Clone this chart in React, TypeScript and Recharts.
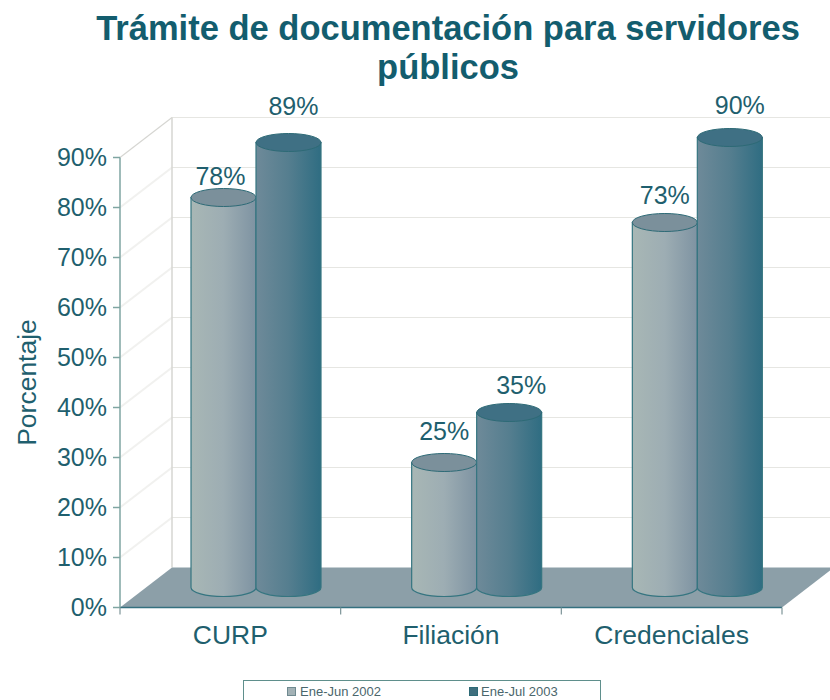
import { BarChart, Bar, XAxis, YAxis, Legend, LabelList, usePlotArea } from "recharts";

const categories = ["CURP", "Filiación", "Credenciales"];
const serie2002 = [78, 25, 73];
const serie2003 = [89, 35, 90];
const yTicks = [0, 10, 20, 30, 40, 50, 60, 70, 80, 90];
const seriesNames = ["Ene-Jun 2002", "Ene-Jul 2003"];

// label positions in the source are a bit uneven, so nudge them by hand
const nudge2002 = [{ x: -3, y: 10 }, { x: 0, y: 0 }, { x: 0, y: 4 }];
const nudge2003 = [{ x: 5, y: -5 }, { x: 12, y: 4 }, { x: 10, y: -1 }];

const chartData = categories.map((name, i) => ({
  name,
  a: serie2002[i],
  b: serie2003[i],
}));

const TEAL = "#1f5f6e";
const FONT = "'Liberation Sans', Arial, sans-serif";
const DX = 52;
const DY = -40;
const RY = 9;

// Back wall, side wall and floor of the 3D box
function Backdrop() {
  const plot = usePlotArea();
  if (!plot) return null;
  const left = plot.x;
  const right = plot.x + plot.width;
  const bottom = plot.y + plot.height;
  const yOf = (t: number) => bottom - (t / 90) * plot.height;

  return (
    <g>
      {yTicks.map((t) => (
        <g key={t}>
          {t > 0 && (
            <line x1={left + DX} x2={right + DX} y1={yOf(t) + DY} y2={yOf(t) + DY}
              stroke="#e6e6e2" strokeWidth={1.2} />
          )}
          {t > 0 && t < 90 && (
            <line x1={left} x2={left + DX} y1={yOf(t)} y2={yOf(t) + DY}
              stroke="#f1f1ef" strokeWidth={2} />
          )}
        </g>
      ))}
      <line x1={left} x2={left + DX} y1={yOf(90)} y2={yOf(90) + DY} stroke="#d6d6d2" strokeWidth={1.2} />
      <line x1={left + DX} x2={left + DX} y1={yOf(90) + DY} y2={bottom + DY} stroke="#d6d6d2" strokeWidth={1.5} />
      <polygon
        points={`${left},${bottom} ${left + DX},${bottom + DY} ${right + DX},${bottom + DY} ${right},${bottom}`}
        fill="#8c9fa8"
      />
      <line x1={left} x2={right} y1={bottom} y2={bottom} stroke="#34707f" strokeWidth={1.3} />
      {[0, 1, 2, 3].map((i) => {
        const x = left + (plot.width * i) / 3;
        return <line key={i} x1={x} x2={x} y1={bottom} y2={bottom + 7} stroke="#7d9498" strokeWidth={1.2} />;
      })}
      <text x={448} y={40} textAnchor="middle" fontFamily={FONT} fontWeight={700} fontSize={34.5} fill="#135d6e">
        Trámite de documentación para servidores
      </text>
      <text x={448} y={79} textAnchor="middle" fontFamily={FONT} fontWeight={700} fontSize={34.5} fill="#135d6e">
        públicos
      </text>
    </g>
  );
}

function Cylinder(props: any) {
  const { x, y, width, height, bodyFill, topFill } = props;
  const rx = width / 2;
  const cx = x + rx + DX / 2;
  const top = y + DY / 2;
  const bot = y + height + DY / 2;
  const d = `M${cx - rx},${top} L${cx - rx},${bot} A${rx},${RY} 0 0 0 ${cx + rx},${bot} L${cx + rx},${top} Z`;
  return (
    <g>
      <path d={d} fill={bodyFill} stroke="#357580" strokeWidth={1.2} />
      <ellipse cx={cx} cy={top} rx={rx} ry={RY} fill={topFill} stroke="#2d6a76" strokeWidth={1} />
    </g>
  );
}

function valueLabel(nudges: { x: number; y: number }[]) {
  return (props: any) => {
    const { x, y, width, value, index } = props;
    const n = nudges[index];
    return (
      <text x={x + width / 2 + DX / 2 + n.x} y={y + DY / 2 - 23 + n.y} textAnchor="middle"
        fontFamily={FONT} fontSize={25} fill={TEAL}>
        {value}%
      </text>
    );
  };
}

function LegendBox() {
  return (
    <div style={{
      position: "absolute", left: 243, top: 680, width: 358, height: 26,
      border: "1px solid #5f8f8c", boxSizing: "border-box", background: "#fff",
      fontFamily: FONT, fontSize: 13, color: "#4a666c",
    }}>
      <span style={{ position: "absolute", left: 43, top: 6, width: 7, height: 7, background: "#a3b2b6", border: "1px solid #6f8a90" }} />
      <span style={{ position: "absolute", left: 56, top: 4, lineHeight: "14px", whiteSpace: "nowrap" }}>{seriesNames[0]}</span>
      <span style={{ position: "absolute", left: 225, top: 6, width: 7, height: 7, background: "#3f6f7e", border: "1px solid #2d6a76" }} />
      <span style={{ position: "absolute", left: 237, top: 4, lineHeight: "14px", whiteSpace: "nowrap" }}>{seriesNames[1]}</span>
    </div>
  );
}

export default function App() {
  return (
    <div style={{ position: "absolute", left: 0, top: 0, width: 830, height: 700, overflow: "hidden", background: "#fff" }}>
      <BarChart
        width={830}
        height={700}
        data={chartData}
        barSize={65}
        barGap={0}
        margin={{ top: 157.5, right: 48, bottom: 52.5, left: 0 }}
      >
        <defs>
          <linearGradient id="cyl2002" x1="0" y1="0" x2="1" y2="0">
            <stop offset="0%" stopColor="#a8b7b5" />
            <stop offset="50%" stopColor="#9dadb3" />
            <stop offset="100%" stopColor="#7e93a2" />
          </linearGradient>
          <linearGradient id="cyl2003" x1="0" y1="0" x2="1" y2="0">
            <stop offset="0%" stopColor="#6e8a99" />
            <stop offset="50%" stopColor="#557e8f" />
            <stop offset="100%" stopColor="#2f6d82" />
          </linearGradient>
        </defs>
        <Backdrop />
        <XAxis
          dataKey="name"
          height={40}
          axisLine={false}
          tickLine={false}
          tickMargin={12}
          tick={{ fontSize: 26.5, fill: TEAL, fontFamily: FONT }}
        />
        <YAxis
          width={120}
          domain={[0, 90]}
          ticks={yTicks}
          interval={0}
          tickFormatter={(v) => `${v}%`}
          tickSize={7}
          tickMargin={6}
          stroke="#7fa5a2"
          strokeWidth={1.5}
          tick={{ fontSize: 25, fill: TEAL, fontFamily: FONT }}
          label={{ value: "Porcentaje", angle: -90, position: "insideLeft", offset: 27, style: { fontSize: 26.5, fill: TEAL, fontFamily: FONT, textAnchor: "middle" } }}
        />
        <Legend content={<LegendBox />} wrapperStyle={{ height: 0, width: 0, left: 0, top: 0 }} />
        <Bar dataKey="a" name={seriesNames[0]} isAnimationActive={false}
          shape={(p: any) => <Cylinder {...p} bodyFill="url(#cyl2002)" topFill="#7b909b" />}>
          <LabelList dataKey="a" content={valueLabel(nudge2002)} />
        </Bar>
        <Bar dataKey="b" name={seriesNames[1]} isAnimationActive={false}
          shape={(p: any) => <Cylinder {...p} bodyFill="url(#cyl2003)" topFill="#3f7084" />}>
          <LabelList dataKey="b" content={valueLabel(nudge2003)} />
        </Bar>
      </BarChart>
    </div>
  );
}
